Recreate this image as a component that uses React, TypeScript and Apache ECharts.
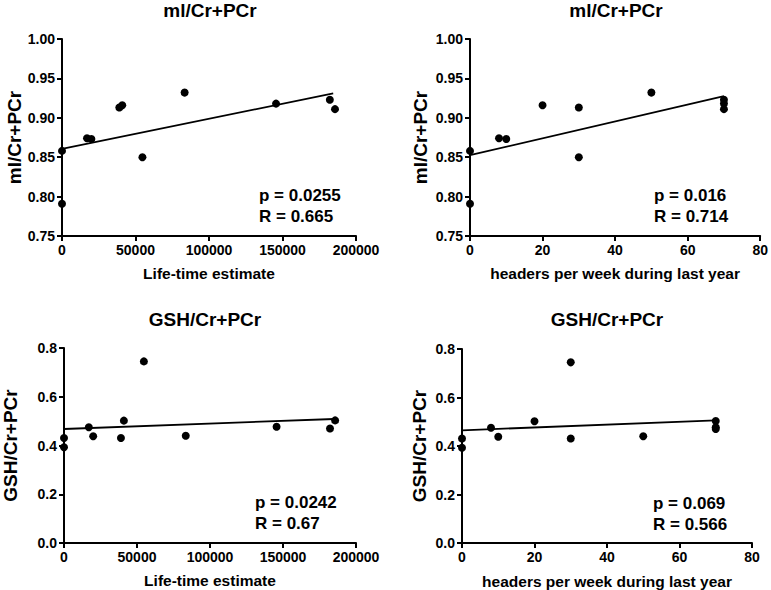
import React, { useEffect, useRef } from "react";
import * as echarts from "echarts";

// Shared x values per subject
const lifetime = [0, 0, 17000, 20000, 39000, 41000, 54700, 83400, 145600, 182200, 185700];
const headers = [0, 0, 8, 10, 30, 20, 30, 50, 70, 70, 70];

// Ratios per subject
const mlRatio = [0.858, 0.791, 0.874, 0.873, 0.913, 0.916, 0.85, 0.932, 0.918, 0.923, 0.911];
const gshRatio = [0.431, 0.393, 0.475, 0.438, 0.431, 0.502, 0.745, 0.44, 0.477, 0.47, 0.503];

// Regression line endpoints
const fitMlLifetime = [[0, 0.8605], [184500, 0.931]];
const fitMlHeaders = [[0, 0.8525], [70, 0.9275]];
const fitGshLifetime = [[0, 0.4677], [185000, 0.5087]];
const fitGshHeaders = [[0, 0.4646], [70, 0.5058]];

const panelTitles = ["ml/Cr+PCr", "ml/Cr+PCr", "GSH/Cr+PCr", "GSH/Cr+PCr"];
const xNames = ["Life-time estimate", "headers per week during last year", "Life-time estimate", "headers per week during last year"];
const yNames = ["ml/Cr+PCr", "ml/Cr+PCr", "GSH/Cr+PCr", "GSH/Cr+PCr"];
const stats = ["p = 0.0255\nR = 0.665", "p = 0.016\nR = 0.714", "p = 0.0242\nR = 0.67", "p = 0.069\nR = 0.566"];

const FONT = "Liberation Sans, Arial, Helvetica, sans-serif";

export default function App() {
  const ref = useRef<HTMLDivElement>(null);
  useEffect(() => {
    if (!ref.current) return;
    const chart = echarts.init(ref.current, undefined, { renderer: "svg" });

    const grids = [
      { left: 62, top: 39, width: 294, height: 197 },
      { left: 470, top: 39, width: 293, height: 197 },
      { left: 64, top: 348, width: 292, height: 195 },
      { left: 462, top: 349, width: 290, height: 194 },
    ];

    const labelStyle = { color: "#000", fontWeight: 700, fontSize: 14, fontFamily: FONT, margin: 7 };

    const axisCommon = {
      axisLine: { show: true, onZero: false, lineStyle: { color: "#000", width: 2 } },
      axisTick: { show: true, length: 5, lineStyle: { color: "#000", width: 2 } },
      splitLine: { show: false },
      nameLocation: "middle",
    };

    const xRanges = [
      { min: 0, max: 200000, interval: 50000 },
      { min: 0, max: 80, interval: 20 },
      { min: 0, max: 200000, interval: 50000 },
      { min: 0, max: 80, interval: 20 },
    ];
    const yRanges = [
      { min: 0.75, max: 1.0, interval: 0.05, dec: 2 },
      { min: 0.75, max: 1.0, interval: 0.05, dec: 2 },
      { min: 0, max: 0.8, interval: 0.2, dec: 1 },
      { min: 0, max: 0.8, interval: 0.2, dec: 1 },
    ];
    const yNameGaps = [37, 40, 44, 33];
    const xNameGaps = [29, 29, 29, 30];

    const xAxis = xRanges.map((r, i) => ({
      type: "value",
      gridIndex: i,
      min: r.min,
      max: r.max,
      interval: r.interval,
      name: xNames[i],
      nameGap: xNameGaps[i],
      ...axisCommon,
      axisLabel: { ...labelStyle, formatter: (v: number) => String(Math.round(v)) },
      nameTextStyle: { color: "#000", fontWeight: 700, fontFamily: FONT, fontSize: 15.5 },
    }));
    const yAxis = yRanges.map((r, i) => ({
      type: "value",
      gridIndex: i,
      min: r.min,
      max: r.max,
      interval: r.interval,
      name: yNames[i],
      nameGap: yNameGaps[i],
      ...axisCommon,
      axisLabel: { ...labelStyle, formatter: (v: number) => v.toFixed(r.dec) },
      nameTextStyle: { color: "#000", fontWeight: 700, fontFamily: FONT, fontSize: 19 },
    }));

    const xs = [lifetime, headers, lifetime, headers];
    const ys = [mlRatio, mlRatio, gshRatio, gshRatio];
    const fits = [fitMlLifetime, fitMlHeaders, fitGshLifetime, fitGshHeaders];

    const series: any[] = [];
    for (let i = 0; i < 4; i++) {
      series.push({
        type: "line",
        xAxisIndex: i,
        yAxisIndex: i,
        data: fits[i],
        symbol: "none",
        lineStyle: { color: "#000", width: 1.8 },
        z: 2,
      });
      series.push({
        type: "scatter",
        xAxisIndex: i,
        yAxisIndex: i,
        data: xs[i].map((x, k) => [x, ys[i][k]]),
        symbol: "circle",
        symbolSize: 8,
        itemStyle: { color: "#000", opacity: 1 },
        z: 3,
      });
    }

    const titleCenters = [
      { x: 210, y: 1 },
      { x: 616, y: 1 },
      { x: 205, y: 310 },
      { x: 607, y: 310 },
    ];
    const title = titleCenters.map((c, i) => ({
      text: panelTitles[i],
      left: c.x,
      top: c.y,
      padding: 0,
      textAlign: "center",
      textStyle: { color: "#000", fontWeight: 700, fontSize: 19, fontFamily: FONT },
    }));

    const statPos = [
      { x: 259, y: 185 },
      { x: 654, y: 185 },
      { x: 255, y: 492 },
      { x: 653, y: 493 },
    ];
    const graphic = statPos.map((p, i) => ({
      type: "text",
      x: p.x,
      y: p.y,
      style: {
        text: stats[i],
        fill: "#000",
        font: `bold 17px ${FONT}`,
        lineHeight: 21,
      },
    }));

    chart.setOption({
      animation: false,
      backgroundColor: "#fff",
      title,
      grid: grids,
      xAxis,
      yAxis,
      series,
      graphic,
    } as any);

    return () => chart.dispose();
  }, []);

  return (
    <div
      ref={ref}
      style={{ position: "absolute", left: 0, top: 0, width: 771, height: 590 }}
    />
  );
}
